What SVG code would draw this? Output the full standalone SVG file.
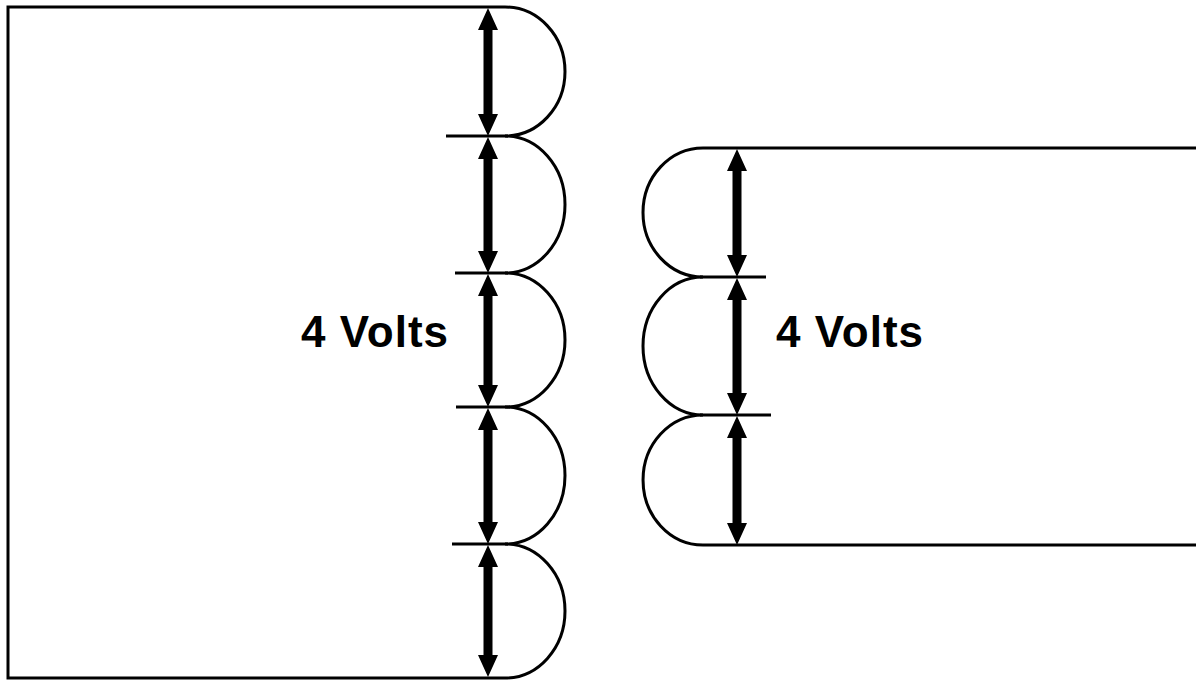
<svg xmlns="http://www.w3.org/2000/svg" width="1196" height="680" viewBox="0 0 1196 680">
<style>
.ln{fill:none;stroke:#000;stroke-width:3;stroke-linecap:butt}
.arc{fill:none;stroke:#000;stroke-width:3}
.arw{fill:#000;stroke:none}
.lbl{font-family:"Liberation Sans",Arial,sans-serif;font-weight:bold;font-size:44px;letter-spacing:1px;fill:#000}
</style>
<rect width="1196" height="680" fill="#fff"/>
<g id="primary-coil">
<path class="ln" d="M505 7 L8 7 L8 678 L505 678"/>
<path class="arc" d="M505 7 A60 64.5 0 0 1 505 136 A60 68.5 0 0 1 505 273 A60 67 0 0 1 505 407 A60 68.5 0 0 1 505 544 A60 67 0 0 1 505 678"/>
<path class="ln" d="M446 136 H508 M455 273 H508 M456 407 H510 M452 544 H508"/>
</g>
<g id="secondary-coil">
<path class="ln" d="M703 148 H1196 M703 545 H1196"/>
<path class="arc" d="M703 148 A60 64.5 0 0 0 703 277 A60 69 0 0 0 703 415 A60 65 0 0 0 703 545"/>
<path class="ln" d="M700 277 H766 M700 415 H771"/>
</g>
<g id="connectors">
<path class="arw" d="M488 8 L498 30 L492.5 30 L492.5 114 L498 114 L488 136 L478 114 L483.5 114 L483.5 30 L478 30 Z"/>
<path class="arw" d="M488 137 L498 159 L492.5 159 L492.5 251 L498 251 L488 273 L478 251 L483.5 251 L483.5 159 L478 159 Z"/>
<path class="arw" d="M488 274 L498 296 L492.5 296 L492.5 385 L498 385 L488 407 L478 385 L483.5 385 L483.5 296 L478 296 Z"/>
<path class="arw" d="M488 408 L498 430 L492.5 430 L492.5 522 L498 522 L488 544 L478 522 L483.5 522 L483.5 430 L478 430 Z"/>
<path class="arw" d="M488 545 L498 567 L492.5 567 L492.5 655 L498 655 L488 677 L478 655 L483.5 655 L483.5 567 L478 567 Z"/>
<path class="arw" d="M737 149 L747 171 L741.5 171 L741.5 255 L747 255 L737 277 L727 255 L732.5 255 L732.5 171 L727 171 Z"/>
<path class="arw" d="M737 278 L747 300 L741.5 300 L741.5 393 L747 393 L737 415 L727 393 L732.5 393 L732.5 300 L727 300 Z"/>
<path class="arw" d="M737 416 L747 438 L741.5 438 L741.5 523 L747 523 L737 545 L727 523 L732.5 523 L732.5 438 L727 438 Z"/>
</g>
<g id="label-primary"><text class="lbl" x="301" y="347">4 Volts</text></g>
<g id="label-secondary"><text class="lbl" x="776" y="347">4 Volts</text></g>
</svg>
